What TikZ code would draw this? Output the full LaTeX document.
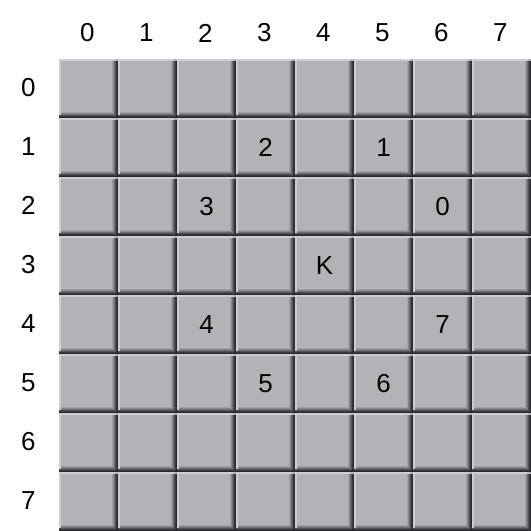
\documentclass[tikz,border=0pt]{standalone}
\usepackage{fontspec}
\setmainfont{Liberation Sans}
\usetikzlibrary{positioning}
\definecolor{cellgray}{RGB}{177,179,182}
\definecolor{cellhi}{RGB}{204,206,209}
\definecolor{celldark}{RGB}{40,42,45}
\tikzset{
    lbl/.style={font=\fontsize{26}{26}\selectfont, inner sep=0pt},
    cell/.style={lbl, minimum size=59pt, fill=cellgray, anchor=center,
        path picture={
            \coordinate (nw) at (path picture bounding box.north west);
            \coordinate (ne) at (path picture bounding box.north east);
            \coordinate (sw) at (path picture bounding box.south west);
            \coordinate (se) at (path picture bounding box.south east);
            % dark edges below and right
            \foreach \i/\p in {5/12,4/30,3/50,2/70,1/88,0/100}{
                \fill[celldark!\p!cellgray] ([yshift=\i pt]sw) rectangle ([yshift=\i pt+1pt,xshift=-\i pt]se);
                \fill[celldark!\p!cellgray] ([xshift=-\i pt,yshift=\i pt]se) rectangle ([xshift=-\i pt-1pt,yshift=-2pt]ne);
            }
            % light edges above and left
            \fill[cellhi] (nw) rectangle ([yshift=-2pt,xshift=-3pt]ne);
            \fill[cellhi] (nw) rectangle ([xshift=2pt,yshift=3pt]sw);
        }},
}
\begin{document}
\begin{tikzpicture}[x=59pt, y=-59pt]
    \useasboundingbox (0,0) rectangle (9,9);
    %% board
    \foreach \c in {0,...,7}{
        \node[lbl] (col\c) at (\c+1.48,0.56) {\c};
        \node[lbl] (row\c) at (0.48,\c+1.49) {\c};
        \foreach \r in {0,...,7}
            \node[cell] (s\c\r) at (\c+1.5,\r+1.5) {};
    }
    % numbered squares round the knight
    \node[lbl] at (s43) {K};
    \node[lbl] at (s62) {0};
    \node[lbl] at (s51) {1};
    \node[lbl] at (s31) {2};
    \node[lbl] at (s22) {3};
    \node[lbl] at (s24) {4};
    \node[lbl] at (s35) {5};
    \node[lbl] at (s55) {6};
    \node[lbl] at (s64) {7};
\end{tikzpicture}
\end{document}
